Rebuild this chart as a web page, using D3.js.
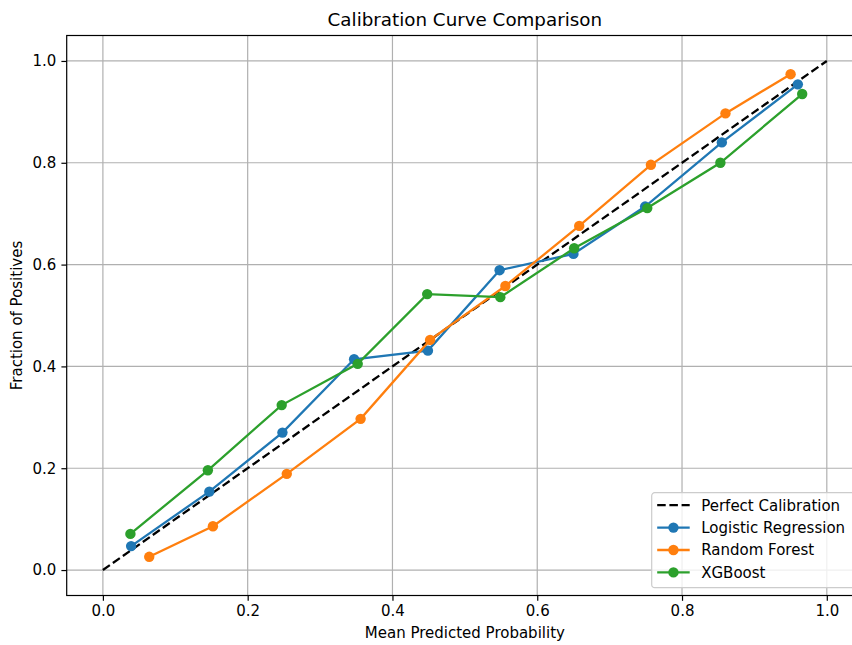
<!DOCTYPE html>
<html>
<head>
<meta charset="utf-8">
<script src="https://cdn.jsdelivr.net/npm/d3@7"></script>
<style>
  body { margin: 0; background: #fff; }
  svg { display: block; font-family: "DejaVu Sans", sans-serif; }
</style>
</head>
<body>
<svg id="chart" width="852" height="645"></svg>
<script>
// values
const seriesNames = ["Logistic Regression", "Random Forest", "XGBoost"];
const seriesColors = ["#1f77b4", "#ff7f0e", "#2ca02c"];

const logregX = [0.039, 0.147, 0.248, 0.347, 0.449, 0.548, 0.650, 0.749, 0.855, 0.960];
const logregY = [0.047, 0.154, 0.270, 0.414, 0.431, 0.589, 0.621, 0.714, 0.840, 0.954];

const forestX = [0.064, 0.152, 0.254, 0.356, 0.452, 0.556, 0.658, 0.757, 0.860, 0.950];
const forestY = [0.026, 0.086, 0.189, 0.297, 0.452, 0.558, 0.676, 0.796, 0.897, 0.974];

const xgbX = [0.038, 0.145, 0.247, 0.352, 0.448, 0.549, 0.651, 0.752, 0.853, 0.966];
const xgbY = [0.071, 0.196, 0.324, 0.405, 0.542, 0.536, 0.632, 0.711, 0.800, 0.935];

const perfectLine = [0, 1];
const tickValues = [0, 0.2, 0.4, 0.6, 0.8, 1.0];

const series = [
  { name: seriesNames[0], color: seriesColors[0], xs: logregX, ys: logregY },
  { name: seriesNames[1], color: seriesColors[1], xs: forestX, ys: forestY },
  { name: seriesNames[2], color: seriesColors[2], xs: xgbX, ys: xgbY }
];

const svg = d3.select("#chart");
const plotLeft = 66.7, plotRight = 863, plotTop = 35.5, plotBottom = 595.5;

const x = d3.scaleLinear().domain([-0.05, 1.05]).range([plotLeft, plotRight]);
const y = d3.scaleLinear().domain([-0.05, 1.05]).range([plotBottom, plotTop]);

// grid
const grid = svg.append("g");
grid.selectAll("line.gx").data(tickValues).enter().append("line")
  .attr("x1", d => x(d)).attr("x2", d => x(d))
  .attr("y1", plotTop).attr("y2", plotBottom)
  .attr("stroke", "#b0b0b0").attr("stroke-width", 1.2);
grid.selectAll("line.gy").data(tickValues).enter().append("line")
  .attr("y1", d => y(d)).attr("y2", d => y(d))
  .attr("x1", plotLeft).attr("x2", plotRight)
  .attr("stroke", "#b0b0b0").attr("stroke-width", 1.2);

// axes
const xAxis = d3.axisBottom(x).tickValues(tickValues).tickFormat(d3.format(".1f"))
  .tickSize(5.3).tickPadding(5);
const yAxis = d3.axisLeft(y).tickValues(tickValues).tickFormat(d3.format(".1f"))
  .tickSize(5.3).tickPadding(5);

const gx = svg.append("g").attr("transform", `translate(0,${plotBottom})`).call(xAxis);
const gy = svg.append("g").attr("transform", `translate(${plotLeft},0)`).call(yAxis);
[gx, gy].forEach(g => {
  g.select(".domain").remove();
  g.selectAll("line").attr("stroke", "#000").attr("stroke-width", 1.2);
  g.selectAll("text").attr("font-size", 15).attr("fill", "#000")
    .attr("font-family", "DejaVu Sans");
});

// reference diagonal
const line = d3.line().x(d => x(d[0])).y(d => y(d[1]));
svg.append("path")
  .attr("d", line(perfectLine.map(v => [v, v])))
  .attr("fill", "none").attr("stroke", "#000")
  .attr("stroke-width", 2.3).attr("stroke-dasharray", "8.5,3.7");

// series
series.forEach(s => {
  const pts = s.xs.map((v, i) => [v, s.ys[i]]);
  const g = svg.append("g");
  g.append("path").attr("d", line(pts))
    .attr("fill", "none").attr("stroke", s.color).attr("stroke-width", 2.3);
  g.selectAll("circle").data(pts).enter().append("circle")
    .attr("cx", d => x(d[0])).attr("cy", d => y(d[1]))
    .attr("r", 5.2).attr("fill", s.color);
});

// spines
svg.append("rect")
  .attr("x", plotLeft).attr("y", plotTop)
  .attr("width", plotRight - plotLeft).attr("height", plotBottom - plotTop)
  .attr("fill", "none").attr("stroke", "#000").attr("stroke-width", 1.2);

// title and labels
svg.append("text").attr("x", (plotLeft + plotRight) / 2).attr("y", 26)
  .attr("text-anchor", "middle").attr("font-size", 18.3)
  .text("Calibration Curve Comparison");
svg.append("text").attr("x", (plotLeft + plotRight) / 2).attr("y", 638)
  .attr("text-anchor", "middle").attr("font-size", 15)
  .text("Mean Predicted Probability");
svg.append("text")
  .attr("transform", `translate(22,${(plotTop + plotBottom) / 2}) rotate(-90)`)
  .attr("text-anchor", "middle").attr("font-size", 15)
  .text("Fraction of Positives");

// legend
const legendItems = [{ name: "Perfect Calibration", color: "#000", dashed: true }]
  .concat(series.map(s => ({ name: s.name, color: s.color, dashed: false })));
const lg = svg.append("g").attr("transform", "translate(651.7,492.7)");
lg.append("rect").attr("width", 204).attr("height", 95).attr("rx", 3)
  .attr("fill", "#fff").attr("fill-opacity", 0.8)
  .attr("stroke", "#cccccc").attr("stroke-width", 1.2);
legendItems.forEach((it, i) => {
  const cy = 12.5 + i * 22.4;
  const row = lg.append("g").attr("transform", `translate(0,${cy})`);
  row.append("line").attr("x1", 5.5).attr("x2", 38).attr("y1", 0).attr("y2", 0)
    .attr("stroke", it.color).attr("stroke-width", 2.3)
    .attr("stroke-dasharray", it.dashed ? "8.5,3.7" : null);
  if (!it.dashed) {
    row.append("circle").attr("cx", 21.75).attr("cy", 0).attr("r", 5.2).attr("fill", it.color);
  }
  row.append("text").attr("x", 49.5).attr("y", 5.3).attr("font-size", 15).text(it.name);
});
</script>
</body>
</html>
